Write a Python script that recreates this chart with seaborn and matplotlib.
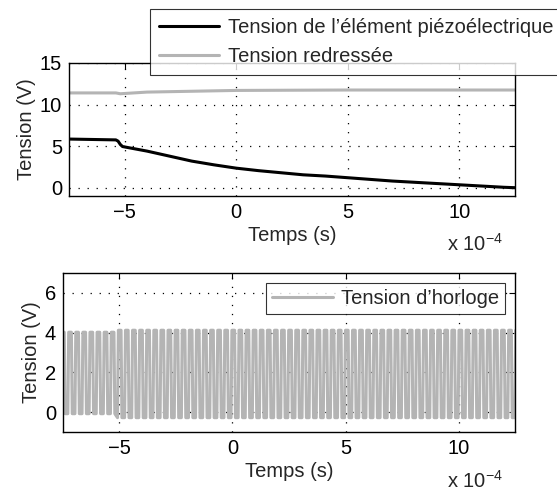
import numpy as np
import pandas as pd
import seaborn as sns
import matplotlib
matplotlib.use('Agg')
import matplotlib.pyplot as plt

sns.set_style('white')
plt.rcParams['font.family'] = ['Liberation Sans', 'DejaVu Sans']
plt.rcParams['mathtext.fontset'] = 'custom'
plt.rcParams['mathtext.rm'] = 'Liberation Sans'
plt.rcParams['mathtext.it'] = 'Liberation Sans'
plt.rcParams['lines.scale_dashes'] = False

FS = 14.5

# temps en unites de 1e-4 s
t_piezo = [-7.5, -5.4, -5.3, -5.2, -5.1, -4.5, -4, -3, -2, -1, 0, 1, 2, 3, 4, 5, 6, 7, 8, 9, 10, 11, 12, 12.5]
v_piezo = [5.85, 5.75, 5.6, 5.2, 4.95, 4.65, 4.4, 3.8, 3.2, 2.75, 2.35, 2.05, 1.8, 1.55, 1.4, 1.2, 1.0, 0.8, 0.65, 0.5, 0.35, 0.2, 0.05, 0.0]

t_redr = [-7.5, -5.4, -5.2, -4, -2, 0, 5, 10, 12.5]
v_redr = [11.4, 11.4, 11.3, 11.5, 11.6, 11.7, 11.75, 11.75, 11.75]

# horloge : periode lue ~0.314e-4 s, niveaux haut/bas avant et apres -5.2e-4 s
clk_period = 0.314
clk_switch = -5.2
clk_high = [4.02, 4.12]
clk_low = [-0.08, -0.28]
clk_phase = [0.0, 0.12, 0.5, 0.62]   # montee, haut, descente, bas

t_clk, v_clk = [], []
k = 0
while -7.6 + k * clk_period < 12.6:
    t0 = -7.6 + k * clk_period
    i = 0 if t0 < clk_switch else 1
    for ph, lvl in zip(clk_phase, [clk_low[i], clk_high[i], clk_high[i], clk_low[i]]):
        t_clk.append(t0 + ph * clk_period)
        v_clk.append(lvl)
    k += 1

piezo = pd.DataFrame({'t': t_piezo, 'v': v_piezo})
redr = pd.DataFrame({'t': t_redr, 'v': v_redr})
clk = pd.DataFrame({'t': t_clk, 'v': v_clk})

fig = plt.figure(figsize=(5.57, 4.91), dpi=100)
ax1 = fig.add_axes([0.1239, 0.6008, 0.8007, 0.2709])
ax2 = fig.add_axes([0.1131, 0.1202, 0.8115, 0.3238])

sns.lineplot(data=piezo, x='t', y='v', ax=ax1, color='black', linewidth=2.2, estimator=None, sort=False,
             label="Tension de l\u2019\u00e9l\u00e9ment pi\u00e9zo\u00e9lectrique")
sns.lineplot(data=redr, x='t', y='v', ax=ax1, color='#b4b4b4', linewidth=2.2, estimator=None, sort=False,
             label='Tension redress\u00e9e')
sns.lineplot(data=clk, x='t', y='v', ax=ax2, color='#b4b4b4', linewidth=2.2, estimator=None, sort=False,
             label='Tension d\u2019horloge')

ax1.set_ylim(-1, 15)
ax1.set_yticks([0, 5, 10, 15])
ax2.set_ylim(-1, 7)
ax2.set_yticks([0, 2, 4, 6])

for ax in (ax1, ax2):
    ax.set_xlim(-7.5, 12.5)
    ax.set_xticks([-5, 0, 5, 10])
    ax.set_xlabel('Temps (s)', fontsize=FS, labelpad=3)
    ax.set_ylabel('Tension (V)', fontsize=FS, labelpad=3)
    ax.tick_params(direction='in', top=True, right=True, length=4, width=0.8, labelsize=FS, pad=5, colors='black')
    ax.grid(True, color='black', linestyle=(0, (0.9, 5.6)), linewidth=0.9)
    for s in ax.spines.values():
        s.set_color('black')
        s.set_linewidth(1.0)

leg1 = ax1.legend(loc='upper left', bbox_to_anchor=(150 / 557, 1 - 9 / 491), bbox_transform=fig.transFigure,
                  fontsize=FS, frameon=True, fancybox=False, handlelength=3.0, handletextpad=0.4,
                  borderpad=0.45, labelspacing=0.5, borderaxespad=0)
leg1.get_frame().set_edgecolor('black')
leg1.get_frame().set_linewidth(0.8)

leg2 = ax2.legend(loc='upper right', bbox_to_anchor=(505 / 557, 1 - 283 / 491), bbox_transform=fig.transFigure,
                  fontsize=FS, frameon=True, fancybox=False, handlelength=3.0, handletextpad=0.4,
                  borderpad=0.3, borderaxespad=0)
leg2.get_frame().set_edgecolor('black')
leg2.get_frame().set_linewidth(0.8)

fig.text(447 / 557, 1 - 244 / 491, r'x 10$^{-4}$', fontsize=FS, va='center', ha='left')
fig.text(447 / 557, 1 - 481 / 491, r'x 10$^{-4}$', fontsize=FS, va='center', ha='left')

fig.savefig('out.png', dpi=100)
